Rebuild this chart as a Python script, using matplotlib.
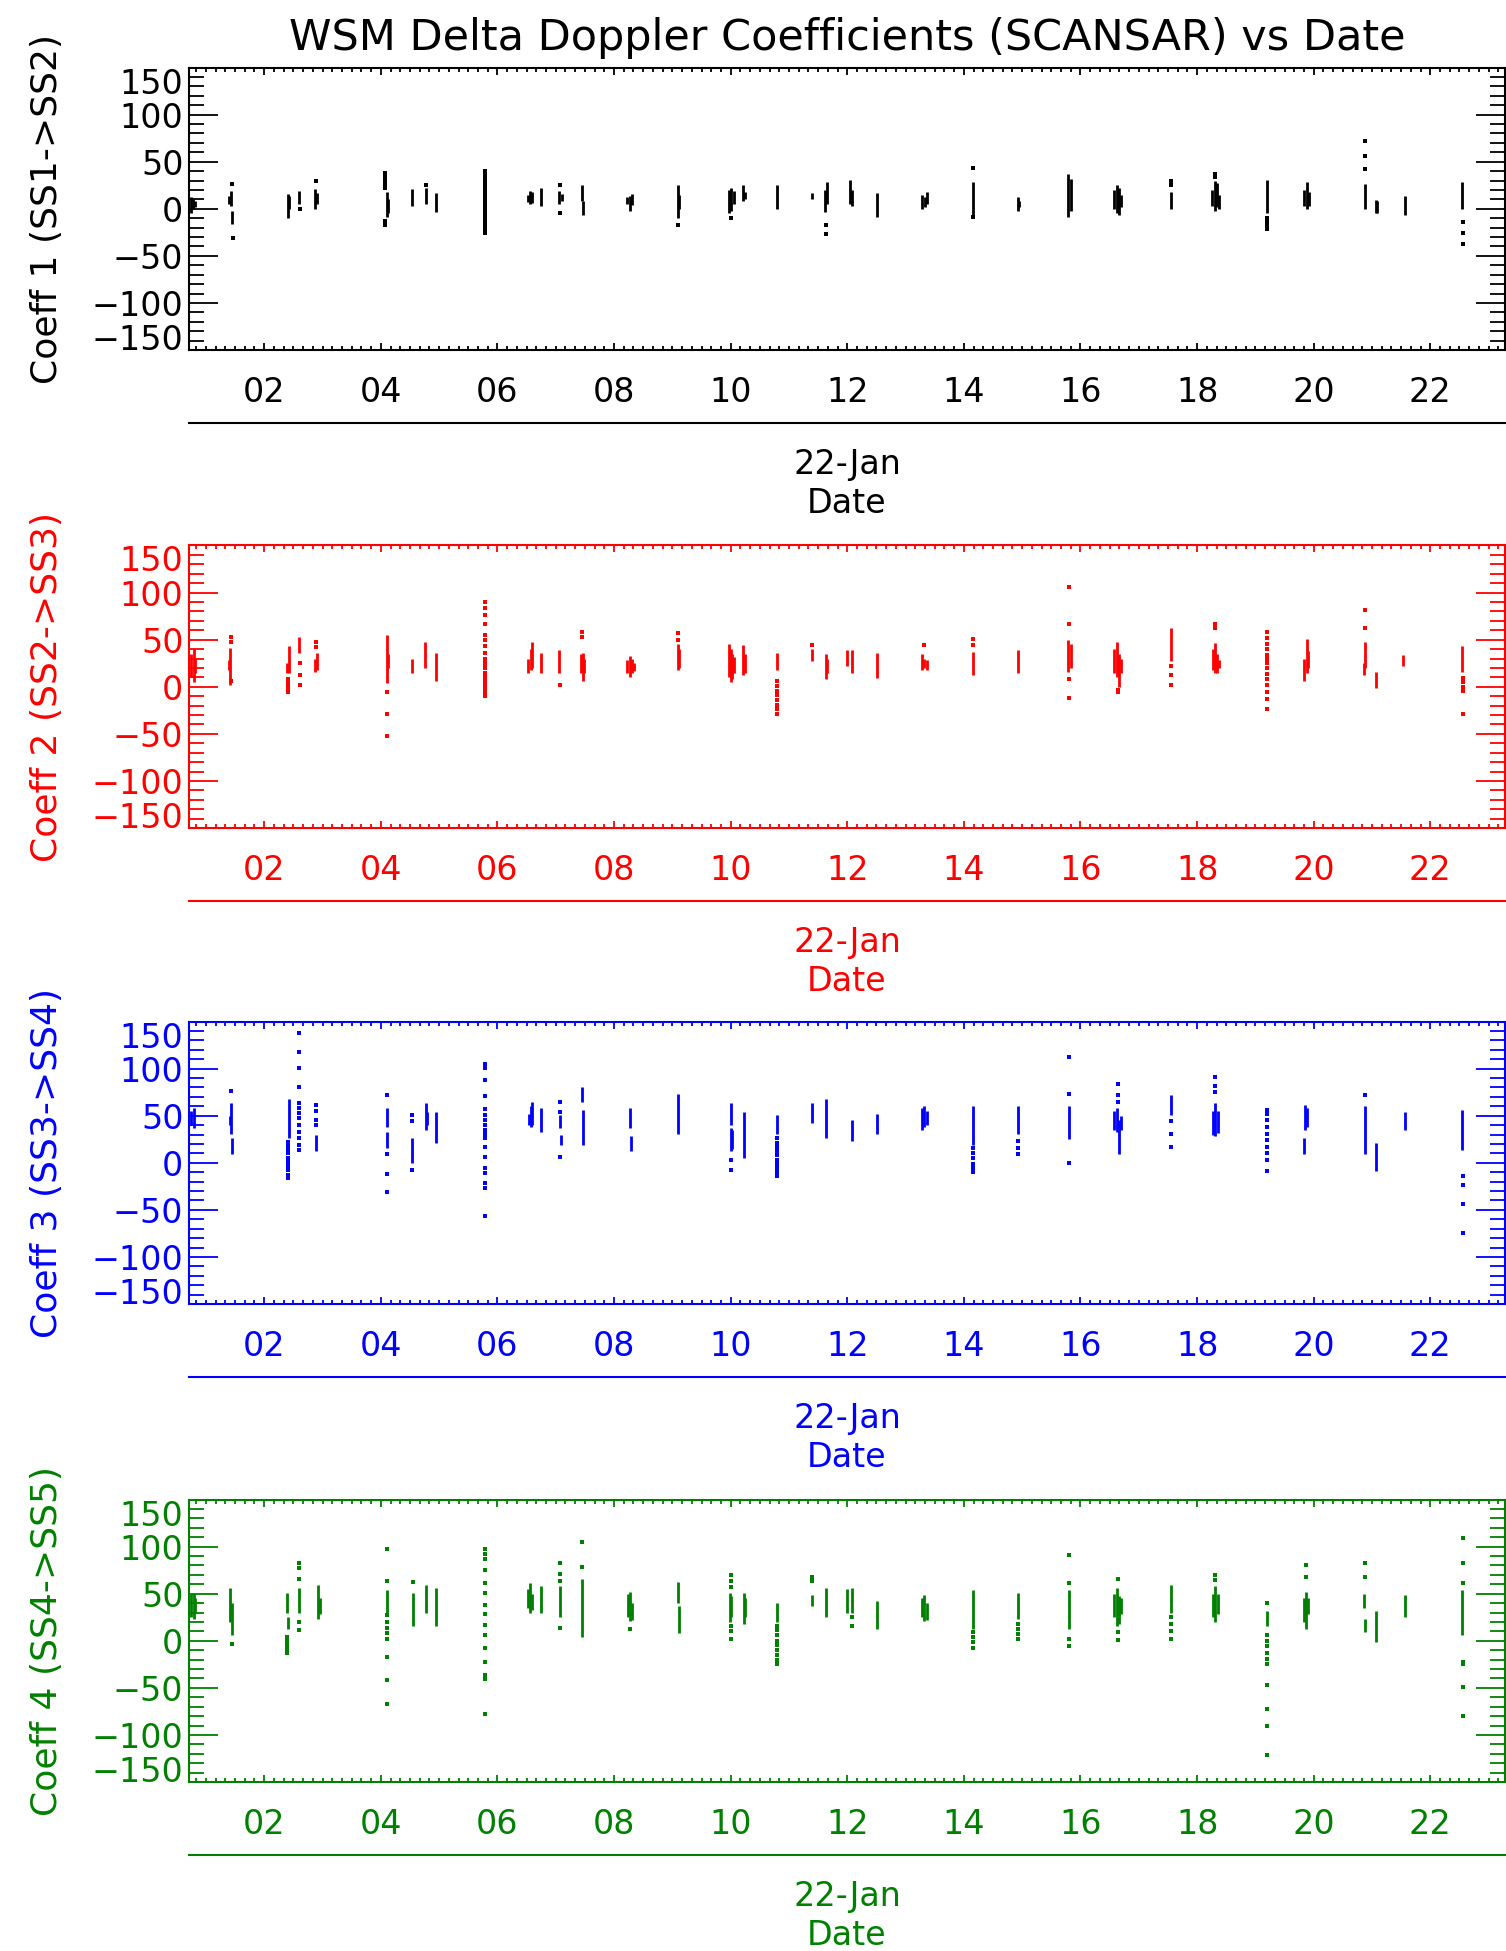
import numpy as np
import matplotlib
matplotlib.use("Agg")
import matplotlib.pyplot as plt
import matplotlib.dates as mdates
from matplotlib.ticker import MultipleLocator

# hours of 22-Jan; segments are (hour, low, high), dots are (hour, [values])
day0 = mdates.date2num(np.datetime64("2011-01-22T00:00"))
hour_range = (0.71, 23.28)

segs1 = [(0.74, -5, 12), (0.78, 0, 10), (0.82, 2, 8), (1.40, 5, 14), (1.43, 3, 19), (1.45, -16, -2),
         (2.40, -10, 16), (2.43, 0, 14), (2.59, 5, 19), (2.87, 0, 21), (2.91, 5, 17),
         (4.10, -9, 18), (4.12, -5, 10), (4.53, 3, 21), (4.77, 5, 22), (4.94, -3, 17),
         (6.53, 7, 15), (6.56, 5, 19), (6.60, 6, 18), (6.74, 3, 22), (7.06, 5, 19), (7.10, 8, 16),
         (7.45, 8, 25), (7.47, -7, 8), (8.22, 5, 12), (8.27, -2, 14), (8.31, 4, 16),
         (9.09, -10, 25), (9.12, 0, 15), (9.97, -5, 20), (10.01, -2, 22), (10.05, 5, 19),
         (10.21, 8, 25), (10.25, 10, 18), (10.79, 0, 25), (11.39, 10, 17), (11.62, -3, 20), (11.65, 5, 28),
         (12.05, 5, 31), (12.08, 3, 20), (12.51, -9, 17), (13.28, 0, 15), (13.33, 2, 13), (13.37, 5, 18),
         (14.15, -9, 28), (14.93, -2, 12), (14.95, 2, 8), (15.79, -9, 37), (15.83, -2, 32),
         (16.58, 0, 20), (16.62, -5, 25), (16.66, -7, 22), (16.70, 2, 15), (17.55, 0, 18),
         (18.25, 3, 20), (18.30, -2, 30), (18.34, 2, 27), (18.38, 0, 15), (19.20, -5, 31),
         (19.84, 3, 20), (19.88, 0, 28), (19.92, 3, 18), (20.88, 0, 26), (21.06, -5, 9), (21.09, -5, 8),
         (21.57, -7, 14), (22.55, 0, 28)]
dots1 = [(1.45, [26]), (1.47, [-31]), (2.62, [0]), (2.89, [29]), (4.08, [38, 34, 30, 26, 22, -13, -17]),
         (4.78, [25]), (5.78, [40, 37, 33, 30, 26, 22, 19, 15, 12, 8, 5, 1, -3, -7, -10, -14, -17, -21, -26]),
         (7.07, [25, -5]), (9.10, [-17]), (10.00, [-10]), (11.64, [-17, -27]), (14.16, [43, -9]),
         (17.55, [29, 25]), (18.30, [37, 34]), (19.20, [-10, -14, -18, -21]), (20.88, [72, 56, 42]),
         (22.56, [-14, -26, -37])]

segs2 = [(0.75, 10, 35), (0.79, 5, 40), (0.82, 15, 30), (1.40, 18, 28), (1.42, 2, 41),
         (2.39, 15, 25), (2.42, 15, 43), (2.60, 36, 53), (2.87, 16, 30), (2.90, 18, 36),
         (4.10, 4, 55), (4.12, 20, 35), (4.53, 15, 30), (4.75, 20, 48), (4.94, 6, 36),
         (6.53, 15, 30), (6.57, 18, 40), (6.60, 20, 48), (6.74, 15, 36), (7.06, 15, 39),
         (7.43, 15, 35), (7.46, 6, 36), (7.49, 15, 30), (8.23, 15, 28), (8.27, 10, 33), (8.31, 15, 30),
         (8.35, 17, 25), (9.09, 18, 45), (9.12, 20, 40), (9.97, 10, 45), (10.00, 5, 40), (10.03, 8, 35),
         (10.06, 15, 32), (10.21, 13, 44), (10.25, 15, 35), (10.79, 18, 36), (11.39, 27, 40),
         (11.63, 8, 35), (11.66, 15, 30), (12.00, 22, 39), (12.08, 15, 39), (12.51, 9, 36),
         (13.28, 18, 35), (13.32, 20, 30), (13.36, 18, 28), (14.16, 13, 37), (14.93, 15, 39),
         (15.79, 16, 50), (15.83, 20, 45), (16.58, 15, 40), (16.62, 10, 48), (16.66, 0, 35), (16.70, 15, 30),
         (17.55, 27, 62), (18.27, 18, 40), (18.30, 15, 46), (18.34, 15, 35), (18.38, 20, 28),
         (19.84, 6, 30), (19.88, 15, 51), (19.91, 20, 38), (20.86, 13, 25), (20.88, 20, 48),
         (21.07, -1, 16), (21.54, 22, 34), (22.55, 16, 43)]
dots2 = [(1.43, [53, 48, 6]), (2.41, [8, 4, 0, -3, -6]), (2.62, [25, 13, 2]), (2.89, [48, 42]),
         (4.10, [-6, -29, -52]),
         (5.78, [90, 84, 76, 67, 55, 50, 43, 36, 30, 27, 23, 20, 15, 10, 6, 3, 0, -4, -7, -10]),
         (7.07, [2]), (7.45, [58, 53]), (9.10, [57, 50]), (10.79, [6, 1, -4, -9, -14, -19, -24, -29]),
         (11.39, [44]), (13.32, [44]), (14.16, [51, 44]), (15.81, [106, 67, 8, -12]), (16.64, [-3, -6]),
         (17.55, [22, 13, 2]), (18.31, [67, 62]),
         (19.20, [58, 52, 45, 40, 34, 30, 25, 20, 14, 8, 2, -6, -13, -24]), (20.88, [81, 62]),
         (22.56, [9, 5, 0, -5, -29])]

segs3 = [(0.75, 40, 55), (0.79, 37, 58), (1.41, 40, 50), (1.43, 31, 63), (1.45, 9, 26),
         (2.42, 26, 68), (2.89, 12, 30), (4.10, 38, 58), (4.11, 16, 33), (4.53, 0, 26),
         (4.78, 35, 63), (4.80, 40, 54), (4.94, 21, 54), (6.54, 40, 52), (6.57, 38, 60), (6.60, 40, 65),
         (6.74, 33, 58), (7.07, 37, 51), (7.09, 19, 30), (7.45, 65, 80), (7.46, 19, 56),
         (8.27, 37, 58), (8.29, 12, 28), (9.10, 31, 73), (10.01, 40, 63), (10.00, 12, 37), (10.03, 15, 35),
         (10.23, 5, 54), (10.79, 31, 51), (11.39, 42, 63), (11.64, 26, 68), (12.08, 23, 45),
         (12.51, 31, 52), (13.28, 35, 58), (13.32, 38, 60), (13.36, 40, 55), (14.16, 19, 60),
         (14.93, 31, 60), (15.81, 25, 60), (16.58, 35, 55), (16.62, 33, 58), (16.66, 9, 45), (16.70, 35, 50),
         (17.55, 51, 72), (18.27, 30, 55), (18.31, 28, 63), (18.35, 32, 55), (19.85, 35, 61),
         (19.88, 38, 58), (19.84, 9, 26), (20.88, 9, 60), (21.07, -9, 21), (21.57, 35, 54), (22.55, 14, 56)]
dots3 = [(1.43, [76]), (2.40, [22, 18, 14, 10, 5, 1, -3, -8, -13, -16]),
         (2.60, [138, 118, 101, 81, 63, 58, 53, 48, 40, 33, 26, 19, 14]), (2.89, [61, 55, 45, 40]),
         (4.10, [72, 9, -12, -31]), (4.53, [51, 44, -8]),
         (5.78, [105, 101, 88, 71, 57, 51, 45, 40, 35, 31, 26, 17, 6, -6, -11, -21, -27, -56]),
         (7.07, [65, 54, 6]), (10.01, [3, -8]), (10.79, [26, 21, 17, 12, 8, 3, -1, -6, -10, -14]),
         (14.16, [16, 10, 5, -1, -5, -10]), (14.93, [23, 16, 9]), (15.81, [112, 73, 0]),
         (16.64, [84, 72, 65]), (17.55, [44, 31, 17]), (18.31, [91, 82, 75]),
         (19.20, [56, 52, 45, 38, 31, 24, 17, 10, 3, -9]), (20.88, [72]), (22.56, [-14, -24, -44, -75])]

segs4 = [(0.75, 25, 50), (0.79, 23, 51), (0.82, 30, 45), (1.42, 20, 56), (1.45, 6, 40),
         (2.39, 30, 51), (2.40, 13, 25), (2.60, 30, 56), (2.93, 23, 59), (2.95, 28, 45),
         (4.10, 30, 54), (4.56, 16, 51), (4.78, 30, 59), (4.94, 16, 56), (6.53, 35, 55), (6.56, 30, 61),
         (6.60, 33, 50), (6.74, 30, 58), (7.07, 25, 58), (7.45, 4, 66), (8.24, 25, 50), (8.27, 21, 52),
         (8.31, 22, 40), (9.10, 40, 62), (9.12, 8, 37), (9.99, 20, 51), (10.01, 25, 48), (10.23, 18, 51),
         (10.25, 25, 45), (10.79, 20, 40), (11.39, 37, 49), (11.64, 25, 56), (12.00, 30, 55),
         (12.08, 30, 56), (12.51, 13, 42), (13.28, 25, 45), (13.32, 21, 49), (13.36, 22, 40),
         (14.16, 13, 54), (14.93, 23, 51), (15.81, 13, 54), (16.58, 25, 50), (16.62, 16, 56),
         (16.66, 18, 48), (16.70, 28, 45), (17.55, 30, 59), (18.27, 25, 50), (18.31, 20, 58),
         (18.35, 28, 50), (19.20, 16, 32), (19.84, 20, 45), (19.87, 13, 52), (19.91, 28, 45),
         (20.88, 9, 23), (20.86, 35, 50), (21.07, -1, 32), (21.57, 25, 49), (22.55, 6, 54)]
dots4 = [(1.45, [-3]), (2.39, [4, 0, -5, -9, -13]), (2.60, [83, 77, 66, 20, 11]),
         (4.10, [97, 64, 27, 20, 14, 8, 2, -17, -42, -67]), (4.56, [62]),
         (5.78, [97, 92, 87, 75, 61, 51, 38, 28, 17, 6, -8, -22, -36, -41, -78]),
         (7.07, [83, 71, 63, 14]), (7.45, [105, 78]), (8.27, [13]), (10.01, [70, 63, 57, 16, 10, 2]),
         (10.79, [16, 11, 6, 0, -5, -10, -15, -20, -25]), (11.39, [68, 63]), (12.08, [25, 16]),
         (14.16, [9, 4, -1, -8]), (14.93, [18, 12, 7, 2]), (15.81, [91, 61, 2, -6]), (16.64, [66, 9, 1]),
         (17.55, [25, 18, 10, 2]), (18.31, [70, 65]),
         (19.20, [40, 6, 0, -6, -13, -19, -25, -47, -72, -91, -121]), (19.87, [80, 68]), (20.88, [83, 68]),
         (22.56, [109, 83, 61, -22, -25, -49, -80])]

ylabels = ["Coeff 1 (SS1->SS2)", "Coeff 2 (SS2->SS3)", "Coeff 3 (SS3->SS4)", "Coeff 4 (SS4->SS5)"]
colors = ["black", "#ff0000", "#0000ff", "#008000"]
all_segs = [segs1, segs2, segs3, segs4]
all_dots = [dots1, dots2, dots3, dots4]

plt.rcParams["font.family"] = "DejaVu Sans"
fig = plt.figure(figsize=(15.06, 19.51), dpi=100)
fig.text(0.5624, 0.9805, "WSM Delta Doppler Coefficients (SCANSAR) vs Date",
         ha="center", va="center", fontsize=31)

bottoms = [0.8206, 0.5756, 0.3316, 0.0866]
for i in range(4):
    col = colors[i]
    ax = fig.add_axes([0.1255, bottoms[i], 0.8738, 0.1448])
    s = np.array(all_segs[i], dtype=float)
    ax.vlines(day0 + s[:, 0] / 24, s[:, 1], s[:, 2], colors=col, lw=2.0)
    for h, vals in all_dots[i]:
        ax.scatter(np.full(len(vals), day0 + h / 24), vals, s=6, marker="s", c=col, lw=0)

    ax.set_xlim(day0 + hour_range[0] / 24, day0 + hour_range[1] / 24)
    ax.set_ylim(-150, 150)
    ax.xaxis.set_major_locator(mdates.HourLocator(byhour=range(2, 24, 2)))
    ax.xaxis.set_major_formatter(mdates.DateFormatter("%H"))
    ax.xaxis.set_minor_locator(mdates.MinuteLocator(byminute=range(0, 60, 10)))
    ax.yaxis.set_major_locator(MultipleLocator(50))
    ax.yaxis.set_minor_locator(MultipleLocator(10))

    for sp in ax.spines.values():
        sp.set_color(col)
        sp.set_linewidth(1.5)
    ax.tick_params(axis="both", which="both", direction="in", colors=col, width=1.3,
                   top=True, right=True, labelsize=24)
    ax.tick_params(axis="x", which="major", length=5, pad=19)
    ax.tick_params(axis="x", which="minor", length=3)
    ax.tick_params(axis="y", which="major", length=21, pad=4)
    ax.tick_params(axis="y", which="minor", length=11)
    ax.set_yticks([-150, -100, -50, 0, 50, 100, 150])
    ylbl = ax.get_yticklabels()
    ylbl[0].set_va("baseline")
    ylbl[-1].set_va("top")

    ax.set_ylabel(ylabels[i], fontsize=26, color=col)
    ax.yaxis.set_label_coords(-0.095, 0.5)

    sec = ax.secondary_xaxis(-0.259)
    sec.set_xticks([day0 + 12 / 24])
    sec.set_xticklabels(["22-Jan"])
    sec.tick_params(length=0, pad=18, labelsize=24, labelcolor=col)
    sec.spines["bottom"].set_color(col)
    sec.spines["bottom"].set_linewidth(1.5)
    sec.set_xlabel("Date", fontsize=24, color=col, labelpad=4)

fig.savefig("out.png", dpi=100)
